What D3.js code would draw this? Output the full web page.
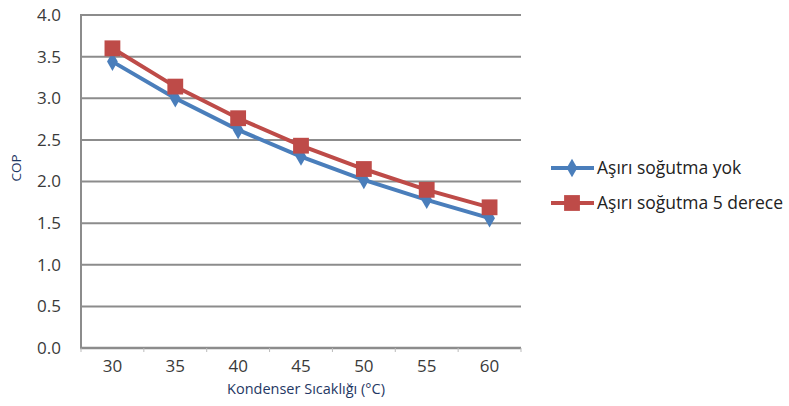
<!DOCTYPE html>
<html>
<head>
<meta charset="utf-8">
<script src="https://cdn.jsdelivr.net/npm/d3@7"></script>
<style>
  body { margin: 0; background: #fff; }
  text { font-family: "Open Sans", "Liberation Sans", sans-serif; }
</style>
</head>
<body>
<svg id="chart" width="789" height="406"></svg>
<script>
// chart data
const temps = ['30', '35', '40', '45', '50', '55', '60'];
const copNoSub = [3.44, 3.00, 2.62, 2.30, 2.02, 1.78, 1.56];
const copSub5 = [3.60, 3.14, 2.76, 2.43, 2.15, 1.90, 1.69];
const yTicks = [0, 0.5, 1, 1.5, 2, 2.5, 3, 3.5, 4];
const seriesNames = ['Aşırı soğutma yok', 'Aşırı soğutma 5 derece'];

const svg = d3.select('#chart');
const plotL = 81, plotR = 521, plotT = 15, plotB = 348;

const x = d3.scaleBand().domain(temps).range([plotL, plotR]);
const y = d3.scaleLinear().domain([0, 4]).range([plotB, plotT]);

// gridlines
svg.append('g').selectAll('line').data(yTicks.filter(d => d > 0)).join('line')
  .attr('x1', plotL).attr('x2', plotR)
  .attr('y1', d => y(d)).attr('y2', d => y(d))
  .attr('stroke', '#8c8c8c').attr('stroke-width', 2);

// y axis
svg.append('line').attr('x1', plotL).attr('x2', plotL).attr('y1', plotT - 1).attr('y2', plotB)
  .attr('stroke', '#8c8c8c').attr('stroke-width', 2);
svg.append('g').selectAll('text').data(yTicks).join('text')
  .attr('x', 61).attr('y', d => y(d)).attr('dy', '0.35em')
  .attr('text-anchor', 'end').attr('font-size', 17).attr('fill', '#3a3a3a')
  .text(d => d.toFixed(1));

// x axis
svg.append('line').attr('x1', plotL - 1).attr('x2', plotR).attr('y1', plotB).attr('y2', plotB)
  .attr('stroke', '#8c8c8c').attr('stroke-width', 2.5);
svg.append('g').selectAll('line').data(d3.range(temps.length + 1)).join('line')
  .attr('x1', i => plotL + i * x.step()).attr('x2', i => plotL + i * x.step())
  .attr('y1', plotB).attr('y2', plotB + 4)
  .attr('stroke', '#bbb').attr('stroke-width', 1);
svg.append('g').selectAll('text').data(temps).join('text')
  .attr('x', d => x(d) + x.bandwidth() / 2).attr('y', 366).attr('dy', '0.35em')
  .attr('text-anchor', 'middle').attr('font-size', 17).attr('fill', '#3a3a3a')
  .text(d => d);

// axis titles
svg.append('text').attr('x', 306).attr('y', 389).attr('dy', '0.35em')
  .attr('text-anchor', 'middle').attr('font-size', 14.5).attr('fill', '#1f3864')
  .text('Kondenser Sıcaklığı (°C)');
svg.append('text').attr('transform', 'translate(16,168) rotate(-90)').attr('dy', '0.35em')
  .attr('text-anchor', 'middle').attr('font-size', 13.5).attr('fill', '#1f3864')
  .text('COP');

const colors = ['#4a7ebb', '#be4b48'];
const series = [copNoSub, copSub5];
const cx = i => x(temps[i]) + x.bandwidth() / 2;
const line = d3.line().x((d, i) => cx(i)).y(d => y(d));

const diamond = d3.symbol().type(d3.symbolDiamond).size(100);
const square = d3.symbol().type(d3.symbolSquare).size(250);

series.forEach((vals, s) => {
  svg.append('path').datum(vals).attr('d', line)
    .attr('fill', 'none').attr('stroke', colors[s]).attr('stroke-width', 4);
  svg.append('g').selectAll('path').data(vals).join('path')
    .attr('transform', (d, i) => `translate(${cx(i)},${y(d)})`)
    .attr('d', s === 0 ? diamond() : square())
    .attr('fill', colors[s]);
});

// legend
const legY = [168, 203];
seriesNames.forEach((name, s) => {
  const g = svg.append('g').attr('transform', `translate(551,${legY[s]})`);
  g.append('line').attr('x1', 0).attr('x2', 43).attr('stroke', colors[s]).attr('stroke-width', 4);
  g.append('path').attr('transform', 'translate(21,0)')
    .attr('d', s === 0 ? diamond() : square()).attr('fill', colors[s]);
  g.append('text').attr('x', 46).attr('dy', '0.35em').attr('font-size', 17.5).attr('fill', '#222')
    .text(name);
});
</script>
</body>
</html>
